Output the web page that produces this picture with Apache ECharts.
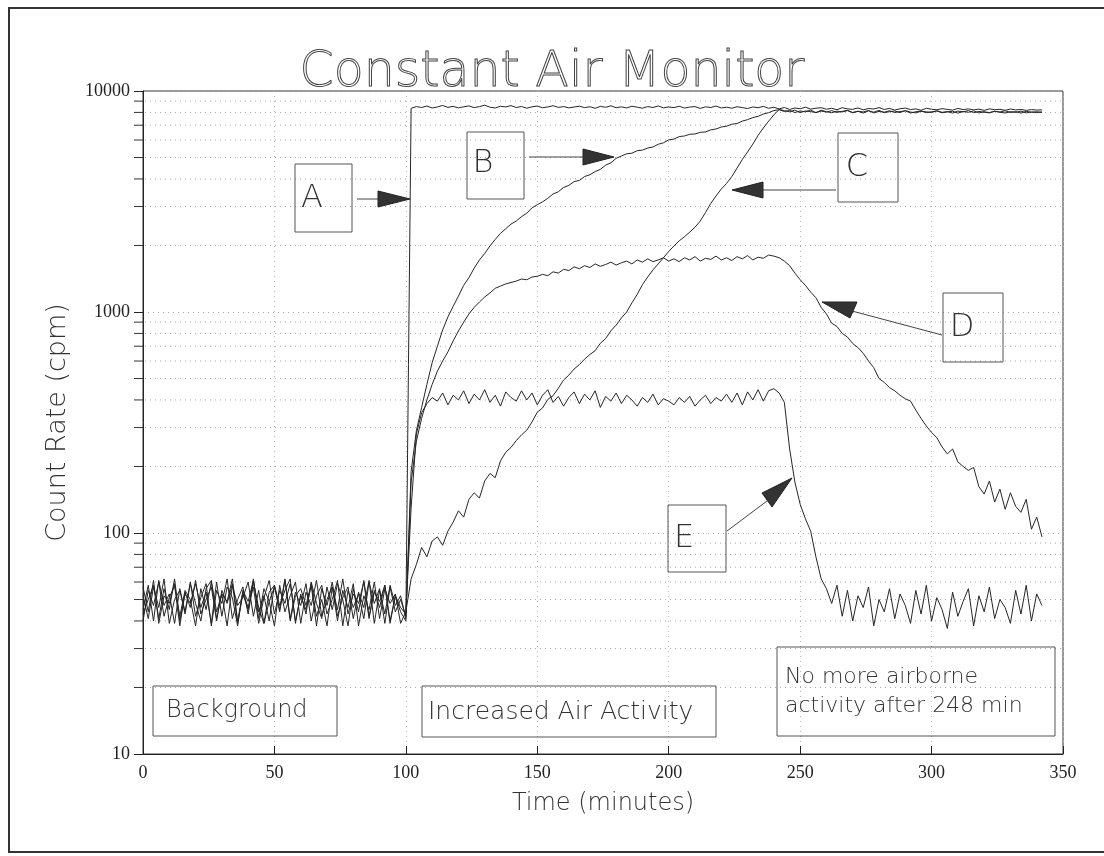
<!DOCTYPE html>
<html><head><meta charset="utf-8">
<script src="https://cdn.jsdelivr.net/npm/echarts@6/dist/echarts.min.js"></script>
<style>html,body{margin:0;padding:0;background:#fff}#c{width:1104px;height:856px}</style>
</head><body><div id="c"></div>
<script>
// Time in minutes (sampling of the plotted traces)
const timeMin = [
0,2,4,6,8,10,12,14,16,18,
20,22,24,26,28,30,32,34,36,38,
40,42,44,46,48,50,52,54,56,58,
60,62,64,66,68,70,72,74,76,78,
80,82,84,86,88,90,92,94,96,98,
100,102,104,106,108,110,112,114,116,118,
120,122,124,126,128,130,132,134,136,138,
140,142,144,146,148,150,152,154,156,158,
160,162,164,166,168,170,172,174,176,178,
180,182,184,186,188,190,192,194,196,198,
200,202,204,206,208,210,212,214,216,218,
220,222,224,226,228,230,232,234,236,238,
240,242,244,246,248,250,252,254,256,258,
260,262,264,266,268,270,272,274,276,278,
280,282,284,286,288,290,292,294,296,298,
300,302,304,306,308,310,312,314,316,318,
320,322,324,326,328,330,332,334,336,338,
340,342];

// Count rate (cpm) for traces A..E
const countA = [
45,58,40,61,47,53,39,56,44,60, 42,51,59,38,55,48,62,41,50,57,
43,60,46,39,54,58,44,61,40,52, 56,47,59,42,50,38,57,45,62,43,
53,48,60,41,55,46,58,39,52,44, 40,
8350,8500,8420,8550,8380,8470,8600,8430,8520,8390,
8480,8560,8410,8500,8620,8450,8380,8530,8470,8590,
8420,8510,8360,8480,8550,8400,8470,8580,8430,8500,
8390,8460,8540,8410,8490,8350,8520,8440,8570,8400,
8480,8380,8530,8450,8360,8500,8420,8560,8390,8470,
8410,8530,8370,8460,8500,8340,8480,8420,8550,8380,
8450,8360,8490,8410,8330,8470,8400,8520,8350,8440,
8300,8420,8250,8380,8310,8450,8280,8360,8400,8270,
8350,8230,8400,8300,8260,8380,8220,8330,8290,8410,
8250,8340,8200,8310,8370,8240,8300,8180,8350,8270,
8220,8320,8260,8190,8340,8240,8300,8210,8280,8170,
8300,8230,8260,8180,8290,8210,8250,8170,8240,8200,
8220];

const countB = [
52,41,57,46,62,39,50,55,43,59, 48,40,56,61,44,53,38,58,47,51,
60,42,55,39,49,57,45,62,41,54, 47,59,40,52,58,43,50,61,38,55,
46,53,41,60,48,56,39,57,44,50, 42,
190,290,370,470,590,700,830,950,1060,1180,
1320,1430,1580,1720,1840,1990,2130,2270,2380,2500,
2580,2700,2800,2960,3060,3150,3270,3420,3500,3660,
3740,3890,3940,4100,4180,4320,4420,4620,4730,4960,
5080,5200,5230,5370,5400,5520,5580,5740,5830,6010,
6060,6220,6260,6370,6390,6500,6530,6670,6730,6870,
6930,7080,7120,7310,7420,7580,7680,7870,7980,8150,
8230,8080,8170,7990,8120,8050,8200,7980,8110,8030,
8150,8000,8090,8180,7970,8100,8040,8160,7960,8080,
8020,8140,7990,8070,8130,7950,8060,8110,7980,8050,
8120,7970,8040,8100,7940,8080,8010,8130,7960,8050,
7990,8090,8020,7950,8070,8000,8110,7960,8040,7980,
8050];

const countC = [
40,55,47,60,42,51,58,38,54,46, 61,43,50,57,40,55,48,59,39,53,
45,62,41,56,49,38,58,44,52,60, 39,54,47,61,42,50,57,40,55,46,
59,38,52,45,60,41,56,48,53,39, 44,
62,72,86,78,92,96,88,102,112,126,
118,142,152,144,172,186,178,212,232,244,
262,278,292,318,352,368,402,418,452,492,
518,552,578,612,642,668,722,758,822,872,
940,1000,1100,1200,1330,1440,1550,1650,1760,1880,
1990,2100,2190,2300,2420,2580,2820,3100,3350,3600,
3820,4100,4480,4900,5300,5750,6300,6800,7300,7800,
8250,8150,8050,8200,7980,8120,8070,7990,8180,8060,
7970,8110,8040,8150,8000,8090,7950,8130,8020,8170,
7980,8060,8120,7990,8150,8030,7960,8100,8050,7990,
8140,8010,8070,7950,8110,8040,8160,7980,8080,8020,
7960,8100,8030,8140,7990,8070,7940,8090,8010,8060,
7990];

const countD = [
57,44,61,39,52,48,59,42,55,50, 38,56,45,60,41,53,49,62,40,54,
46,57,39,51,61,43,55,48,59,40, 52,45,58,38,56,47,60,42,51,57,
41,54,46,61,39,55,43,58,47,52, 41,
170,260,330,400,470,540,600,660,740,820,
900,980,1050,1110,1170,1220,1280,1310,1340,1360,
1380,1410,1400,1440,1450,1480,1460,1520,1500,1560,
1540,1600,1570,1620,1590,1650,1610,1640,1680,1630,
1670,1700,1650,1720,1680,1740,1690,1720,1760,1700,
1740,1690,1760,1720,1780,1700,1750,1730,1790,1720,
1760,1710,1780,1740,1800,1720,1770,1750,1810,1790,
1760,1700,1620,1500,1400,1320,1230,1160,1050,980,
890,860,800,770,720,690,650,600,560,500,
480,455,440,420,405,395,360,330,305,285,
270,245,228,240,210,200,192,198,162,150,
172,138,158,128,152,132,124,142,104,118,
96];

const countE = [
43,50,58,41,56,45,62,40,53,48, 59,46,54,39,60,42,57,51,38,55,
49,61,44,52,40,58,47,55,62,39, 53,43,60,48,41,57,45,59,50,38,
56,44,61,42,54,49,58,40,52,46, 43,
130,280,350,385,410,395,430,380,420,400,
440,385,425,400,445,390,420,375,435,410,
395,440,400,430,380,420,445,390,415,375,
410,435,385,425,400,440,370,415,395,430,
385,420,400,375,410,390,425,380,405,395,
380,410,390,415,375,400,420,385,410,395,
425,390,430,380,435,400,445,395,440,450,
430,390,240,170,135,116,102,78,62,56,
48,58,42,55,40,52,46,57,38,50,
44,56,41,53,47,39,55,43,58,40,
51,45,37,54,42,49,56,38,52,44,
57,41,50,46,39,55,43,58,40,53,
47];

// Axis tick values
const xTickValues = [0,50,100,150,200,250,300,350];
const yMajorTicks = [10,100,1000,10000];
const yMinorTicks = [20,30,40,50,60,70,80,90,200,300,400,500,600,700,800,900,2000,3000,4000,5000,6000,7000,8000,9000];

const traces = [['A',countA],['B',countB],['C',countC],['D',countD],['E',countE]];

const chart = echarts.init(document.getElementById('c'), null, {renderer:'canvas'});
const sans = '"DejaVu Sans", Roboto, sans-serif';
const txtColor = '#333';
const lineSeries = traces.map(([name, arr]) => ({
  name, type:'line', symbol:'none', animation:false, z:3,
  lineStyle:{color:'#262626', width:1},
  data: timeMin.map((t,i)=>[t, arr[i]])
}));

const gridSeries = {
  type:'custom', coordinateSystem:'cartesian2d', clip:false, silent:true, z:1,
  data: yMinorTicks.map(v=>[0,v]),
  encode:{x:0,y:1},
  renderItem:(params, api)=>{
    const v = api.value(1);
    const p0 = api.coord([0, v]);
    const p1 = api.coord([350, v]);
    return {type:'group', children:[
      {type:'line', shape:{x1:p0[0]-9,y1:p0[1],x2:p0[0],y2:p0[1]}, style:{stroke:'#333',lineWidth:1}},
      {type:'line', shape:{x1:p0[0]+2,y1:p0[1],x2:p1[0]-2,y2:p1[1]}, style:{stroke:'#a8a8a8',lineWidth:1,lineDash:[1,4]}}
    ]};
  }
};

function box(x,y,w,h){ return {type:'rect', shape:{x,y,width:w,height:h}, style:{fill:'none', stroke:'#555', lineWidth:1}, z:10}; }
function label(text,x,y,size,align){ return {type:'text', x, y, z:10, style:{text, fontFamily:sans, fontWeight:200, fontSize:size, fill:txtColor, textAlign:align||'center', textVerticalAlign:'middle'}}; }
function arrowLine(x1,y1,x2,y2){ return {type:'line', shape:{x1,y1,x2,y2}, style:{stroke:'#444', lineWidth:1}, z:10}; }
function head(pts){ return {type:'polygon', shape:{points:pts}, style:{fill:'#333', stroke:'#222', lineWidth:1}, z:10}; }

chart.setOption({
  animation:false,
  backgroundColor:'#fff',
  title:{ text:'Constant Air Monitor', left:'center', top:44,
    textStyle:{fontFamily:sans, fontWeight:200, fontSize:49, color:'rgba(0,0,0,0)', textBorderColor:'#444', textBorderWidth:1} },
  grid:{ left:143, right:41, top:91, bottom:102, show:true, borderColor:'#333', borderWidth:1, backgroundColor:'transparent' },
  xAxis:{ type:'value', min:0, max:350, interval:50,
    name:'Time (minutes)', nameLocation:'middle', nameGap:38,
    nameTextStyle:{fontFamily:sans, fontWeight:200, fontSize:24, color:txtColor},
    axisLine:{show:true, lineStyle:{color:'#222', width:1}},
    axisTick:{show:true, inside:true, length:8, lineStyle:{color:'#222'}},
    axisLabel:{fontFamily:'Liberation Serif', fontSize:18, color:'#222', margin:10},
    splitLine:{show:true, lineStyle:{color:'#b8b8b8', type:[1,4], width:1}}
  },
  yAxis:{ type:'log', logBase:10, min:10, max:10000, splitNumber:3,
    name:'Count Rate (cpm)', nameLocation:'middle', nameGap:72,
    nameTextStyle:{fontFamily:sans, fontWeight:200, fontSize:27, color:txtColor},
    axisLine:{show:true, lineStyle:{color:'#222', width:1}},
    axisTick:{show:true, inside:false, length:9, lineStyle:{color:'#222'}},
    axisLabel:{fontFamily:'Liberation Serif', fontSize:18, color:'#222', margin:13,
      formatter:(v)=> yMajorTicks.includes(Math.round(v)) ? String(Math.round(v)) : ''},
    splitLine:{show:true, lineStyle:{color:'#a8a8a8', type:[1,4], width:1}}
  },
  series:[gridSeries, ...lineSeries],
  graphic:[
    {type:'rect', shape:{x:9,y:8,width:1110,height:844}, style:{fill:'none', stroke:'#333', lineWidth:2}, z:0, silent:true},
    box(295,164,57,68), label('A',312,199,32),
    arrowLine(357,199,378,199), head([[378,191],[410,199],[378,207]]),
    box(467,132,57,67), label('B',483,164,32),
    arrowLine(529,157,583,157), head([[583,149],[614,157],[583,165]]),
    box(838,133,60,69), label('C',857,168,32),
    arrowLine(836,190,762,190), head([[763,182],[732,190],[763,198]]),
    box(943,293,60,69), label('D',962,328,32),
    arrowLine(942,335,852,311), head([[822,302],[857,302],[850,318]]),
    box(668,505,58,67), label('E',684,539,32),
    arrowLine(727,531,767,501), head([[792,478],[762,493],[772,507]]),
    box(153,686,184,50), label('Background',166,711,24,'left'),
    box(422,686,294,51), label('Increased Air Activity',428,712,25,'left'),
    box(777,647,278,89), label('No more airborne',785,677,22,'left'), label('activity after 248 min',785,706,22,'left')
  ]
});
</script></body></html>
